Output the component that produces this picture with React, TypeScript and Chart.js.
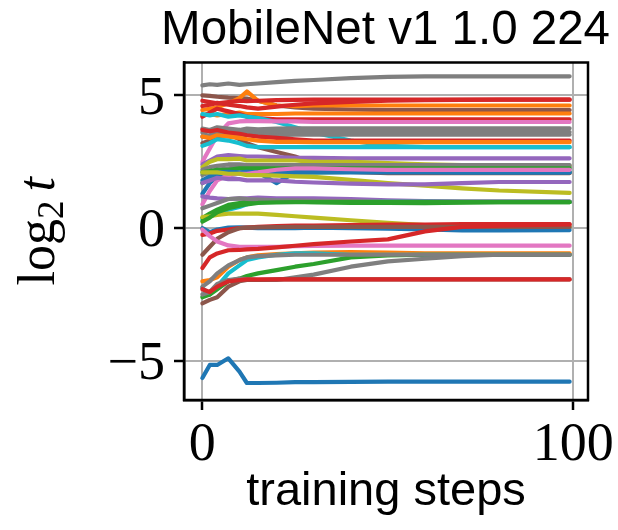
import React, { useEffect, useRef } from "react";
import { Chart, registerables } from "chart.js";

Chart.register(...registerables);

const titleText = "MobileNet v1 1.0 224";
const xLabel = "training steps";
const yLabelParts = ["log", "2", "t"];

const steps = [0, 2, 4, 7, 10, 12, 15, 20, 25, 30, 40, 50, 60, 70, 80, 99];
const xTicks = [0, 100];
const yTicks = [-5, 0, 5];

const C = {
  blue: "#1f77b4", orange: "#ff7f0e", green: "#2ca02c", red: "#d62728", purple: "#9467bd",
  brown: "#8c564b", pink: "#e377c2", gray: "#7f7f7f", olive: "#bcbd22", cyan: "#17becf",
};

const seriesColors = [
  "gray", "brown", "orange", "red", "red", "orange", "red", "cyan", "pink", "brown",
  "gray", "gray", "gray", "red", "orange", "cyan", "purple", "olive", "gray", "gray",
  "green", "green", "blue", "blue", "pink", "olive", "purple", "purple", "cyan", "green",
  "gray", "olive", "green", "blue", "red", "brown", "pink", "red", "orange", "cyan",
  "green", "gray", "gray", "brown", "red", "blue",
];

const seriesValues = [
  [5.38, 5.42, 5.40, 5.45, 5.40, 5.42, 5.45, 5.50, 5.55, 5.58, 5.65, 5.70, 5.72, 5.72, 5.72, 5.72],
  [5.00, 4.98, 4.95, 4.92, 4.90, 4.88, 4.80, 4.62, 4.55, 4.50, 4.47, 4.45, 4.45, 4.45, 4.45, 4.45],
  [4.45, 4.50, 4.55, 4.70, 4.90, 5.15, 4.80, 4.62, 4.60, 4.62, 4.62, 4.62, 4.62, 4.62, 4.62, 4.62],
  [4.80, 4.75, 4.70, 4.75, 4.80, 4.78, 4.80, 4.82, 4.83, 4.84, 4.84, 4.84, 4.84, 4.84, 4.84, 4.84],
  [4.60, 4.65, 4.72, 4.65, 4.60, 4.55, 4.50, 4.58, 4.65, 4.70, 4.76, 4.80, 4.82, 4.83, 4.84, 4.84],
  [4.25, 4.30, 4.25, 4.30, 4.35, 4.30, 4.30, 4.30, 4.32, 4.32, 4.32, 4.32, 4.32, 4.32, 4.32, 4.32],
  [4.20, 4.35, 4.50, 4.40, 4.30, 4.20, 4.15, 4.10, 4.10, 4.10, 4.10, 4.10, 4.10, 4.10, 4.10, 4.10],
  [4.30, 4.25, 4.30, 4.20, 4.25, 4.20, 4.15, 4.00, 3.80, 3.60, 3.30, 3.10, 3.05, 3.05, 3.05, 3.05],
  [2.50, 3.00, 3.50, 3.95, 4.02, 4.03, 4.03, 4.02, 4.02, 4.00, 4.00, 4.00, 4.00, 4.00, 4.00, 4.00],
  [3.20, 3.30, 3.40, 3.55, 3.35, 3.20, 3.05, 2.87, 2.70, 2.45, 2.12, 2.07, 2.07, 2.07, 2.07, 2.07],
  [3.75, 3.70, 3.80, 3.75, 3.70, 3.75, 3.72, 3.75, 3.76, 3.76, 3.76, 3.76, 3.76, 3.76, 3.76, 3.76],
  [3.60, 3.65, 3.55, 3.60, 3.70, 3.60, 3.62, 3.62, 3.62, 3.62, 3.62, 3.62, 3.62, 3.62, 3.62, 3.62],
  [3.45, 3.50, 3.60, 3.50, 3.55, 3.50, 3.52, 3.50, 3.52, 3.52, 3.52, 3.52, 3.52, 3.52, 3.52, 3.52],
  [3.70, 3.65, 3.70, 3.60, 3.55, 3.50, 3.45, 3.40, 3.35, 3.30, 3.30, 3.30, 3.30, 3.30, 3.30, 3.30],
  [3.45, 3.40, 3.50, 3.45, 3.40, 3.35, 3.30, 3.25, 3.25, 3.24, 3.24, 3.24, 3.24, 3.24, 3.24, 3.24],
  [3.10, 3.20, 3.35, 3.30, 3.20, 3.10, 3.05, 3.05, 3.05, 3.05, 3.05, 3.05, 3.05, 3.05, 3.05, 3.05],
  [2.40, 2.55, 2.70, 2.75, 2.72, 2.70, 2.70, 2.68, 2.65, 2.65, 2.63, 2.63, 2.63, 2.63, 2.63, 2.63],
  [2.30, 2.50, 2.60, 2.60, 2.62, 2.55, 2.55, 2.55, 2.55, 2.50, 2.50, 2.45, 2.40, 2.38, 2.35, 2.35],
  [2.20, 2.30, 2.35, 2.40, 2.40, 2.38, 2.38, 2.38, 2.38, 2.38, 2.38, 2.38, 2.38, 2.38, 2.38, 2.38],
  [2.00, 2.10, 2.20, 2.25, 2.30, 2.30, 2.30, 2.32, 2.30, 2.30, 2.30, 2.30, 2.30, 2.30, 2.30, 2.30],
  [2.10, 2.15, 2.20, 2.20, 2.25, 2.25, 2.25, 2.25, 2.25, 2.25, 2.25, 2.25, 2.25, 2.25, 2.25, 2.25],
  [1.70, 1.90, 2.00, 2.05, 2.05, 2.10, 2.10, 2.10, 2.10, 2.10, 2.12, 2.12, 2.12, 2.12, 2.12, 2.12],
  [1.80, 1.95, 2.10, 2.12, 2.10, 2.12, 2.10, 1.70, 2.10, 2.12, 2.15, 2.15, 2.12, 2.10, 2.10, 2.10],
  [1.30, 1.70, 1.95, 2.00, 2.05, 2.05, 2.08, 2.10, 2.10, 2.10, 2.10, 2.10, 2.10, 2.10, 2.10, 2.10],
  [0.90, 1.40, 1.80, 2.00, 2.05, 2.05, 2.10, 2.20, 2.25, 2.25, 2.22, 2.20, 2.20, 2.20, 2.20, 2.20],
  [2.10, 2.10, 2.10, 2.05, 2.05, 2.00, 2.00, 1.98, 1.95, 1.93, 1.82, 1.70, 1.60, 1.50, 1.42, 1.33],
  [1.70, 1.80, 1.90, 1.85, 1.85, 1.80, 1.80, 1.80, 1.75, 1.72, 1.68, 1.65, 1.65, 1.70, 1.74, 1.74],
  [1.20, 1.15, 1.12, 1.10, 1.12, 1.12, 1.15, 1.12, 1.12, 1.12, 1.10, 1.05, 1.02, 1.00, 1.00, 1.00],
  [0.30, 0.45, 0.55, 0.70, 0.80, 0.90, 1.00, 1.03, 1.02, 1.00, 1.00, 1.00, 1.00, 0.99, 0.99, 0.99],
  [0.38, 0.55, 0.70, 0.88, 0.95, 1.00, 1.00, 1.00, 1.00, 0.98, 0.95, 0.95, 0.94, 0.96, 0.98, 0.98],
  [0.75, 0.85, 0.95, 1.10, 1.12, 1.10, 1.08, 1.05, 1.05, 1.03, 1.02, 1.00, 1.00, 1.00, 1.00, 1.00],
  [0.42, 0.45, 0.50, 0.55, 0.55, 0.55, 0.55, 0.50, 0.45, 0.40, 0.30, 0.20, 0.12, 0.10, 0.08, 0.05],
  [0.25, 0.40, 0.60, 0.75, 0.85, 0.90, 0.95, 0.97, 0.98, 0.98, 0.98, 0.98, 0.98, 0.98, 0.98, 0.98],
  [0.00, -0.15, -0.05, 0.02, 0.03, 0.02, 0.00, 0.00, 0.00, 0.02, 0.00, -0.02, -0.05, -0.08, -0.08, -0.07],
  [-0.25, -0.20, -0.10, -0.05, 0.00, 0.02, 0.05, 0.08, 0.10, 0.10, 0.12, 0.14, 0.14, 0.15, 0.15, 0.15],
  [-1.00, -0.70, -0.40, -0.15, 0.00, 0.02, 0.03, 0.04, 0.05, 0.05, 0.05, 0.05, 0.05, 0.05, 0.05, 0.05],
  [-0.05, -0.30, -0.50, -0.65, -0.70, -0.70, -0.70, -0.70, -0.68, -0.67, -0.66, -0.66, -0.66, -0.66, -0.66, -0.66],
  [-1.50, -1.10, -0.95, -0.83, -0.82, -0.80, -0.78, -0.72, -0.66, -0.60, -0.50, -0.42, -0.12, 0.05, 0.10, 0.14],
  [-2.00, -1.95, -1.85, -1.45, -1.20, -1.10, -1.02, -0.98, -0.95, -0.92, -0.90, -0.92, -0.95, -0.95, -0.95, -0.95],
  [-2.25, -2.50, -2.20, -1.70, -1.40, -1.20, -1.10, -1.00, -0.95, -0.95, -1.00, -1.00, -1.00, -1.00, -1.00, -1.00],
  [-2.60, -2.50, -2.30, -2.00, -1.90, -1.80, -1.70, -1.58, -1.45, -1.35, -1.10, -1.02, -1.00, -1.00, -1.00, -1.00],
  [-2.50, -2.40, -2.10, -1.95, -1.90, -1.92, -1.95, -1.95, -1.85, -1.75, -1.45, -1.25, -1.15, -1.05, -1.00, -1.00],
  [-2.20, -2.00, -1.70, -1.40, -1.20, -1.10, -1.05, -1.02, -1.00, -1.00, -1.00, -1.00, -1.00, -1.00, -1.00, -1.00],
  [-2.83, -2.70, -2.60, -2.20, -2.00, -1.95, -1.95, -1.93, -1.93, -1.93, -1.93, -1.93, -1.93, -1.93, -1.93, -1.93],
  [-2.30, -2.40, -2.20, -2.00, -1.95, -1.93, -1.93, -1.93, -1.93, -1.93, -1.93, -1.93, -1.93, -1.93, -1.93, -1.93],
  [-5.64, -5.15, -5.15, -4.90, -5.40, -5.83, -5.83, -5.82, -5.80, -5.80, -5.79, -5.78, -5.78, -5.78, -5.78, -5.78],
];

const frameAndLabelPlugin = {
  id: "frameAndLabel",
  afterDatasetsDraw(chart: any) {
    const { ctx, chartArea } = chart;
    ctx.save();
    ctx.strokeStyle = "#000";
    ctx.lineWidth = 2.5;
    ctx.strokeRect(chartArea.left, chartArea.top, chartArea.right - chartArea.left, chartArea.bottom - chartArea.top);
    ctx.restore();
  },
  afterDraw(chart: any) {
    const { ctx, chartArea } = chart;
    const cy = (chartArea.top + chartArea.bottom) / 2;
    const big = "52px 'Liberation Serif'";
    const small = "37px 'Liberation Serif'";
    const ital = "italic 52px 'Liberation Serif'";
    ctx.save();
    ctx.fillStyle = "#000";
    ctx.translate(54, cy);
    ctx.rotate(-Math.PI / 2);
    ctx.textBaseline = "alphabetic";
    ctx.font = big;
    const w1 = ctx.measureText(yLabelParts[0]).width;
    ctx.font = small;
    const w2 = ctx.measureText(yLabelParts[1]).width;
    ctx.font = ital;
    const w3 = ctx.measureText(yLabelParts[2]).width;
    const gap = 9;
    const total = w1 + w2 + gap + w3;
    let x = -total / 2;
    ctx.font = big;
    ctx.fillText(yLabelParts[0], x, 0);
    x += w1;
    ctx.font = small;
    ctx.fillText(yLabelParts[1], x, 9);
    x += w2 + gap;
    ctx.font = ital;
    ctx.fillText(yLabelParts[2], x, 0);
    ctx.restore();
  },
};

export default function App() {
  const ref = useRef<HTMLCanvasElement | null>(null);
  useEffect(() => {
    if (!ref.current) return;
    const datasets = seriesValues.map((vals, i) => ({
      label: "s" + i,
      data: vals.map((v, j) => ({ x: steps[j], y: v })),
      borderColor: (C as any)[seriesColors[i]],
      backgroundColor: (C as any)[seriesColors[i]],
      borderWidth: 4.2,
      borderJoinStyle: "round",
      borderCapStyle: "round",
      pointRadius: 0,
      tension: 0,
      fill: false,
      order: seriesValues.length - i,
    }));
    const tickFont = { family: "'Liberation Serif'", size: 54 };
    const chart = new Chart(ref.current, {
      type: "line",
      data: { datasets },
      plugins: [frameAndLabelPlugin],
      options: {
        animation: false,
        responsive: false,
        devicePixelRatio: 1,
        layout: { padding: { top: 0, left: 0, right: 8, bottom: 0 } },
        plugins: {
          legend: { display: false },
          tooltip: { enabled: false },
          title: {
            display: true,
            align: "end",
            text: titleText,
            color: "#000",
            font: { family: "'Liberation Sans'", size: 47.5, weight: "normal", lineHeight: 1 },
            padding: { top: 7, bottom: 8 },
          },
        },
        scales: {
          x: {
            type: "linear",
            min: -4.95,
            max: 103.95,
            afterBuildTicks: (s: any) => { s.ticks = xTicks.map((v) => ({ value: v })); },
            afterFit: (s: any) => { s.height = 130; s.paddingLeft = 0; s.paddingRight = 30; },
            ticks: {
              font: tickFont, color: "#000", padding: 3, maxRotation: 0, autoSkip: false,
              callback: (v: any) => String(v),
            },
            grid: { color: "#b0b0b0", lineWidth: 2, tickColor: "#000", tickLength: 10, tickWidth: 2.5 },
            border: { color: "#000", width: 2.5 },
            title: {
              display: true, text: xLabel, color: "#000",
              font: { family: "'Liberation Sans'", size: 47, lineHeight: 1 },
              padding: { top: 0, bottom: 14 },
            },
          },
          y: {
            type: "linear",
            min: -6.47,
            max: 6.24,
            afterBuildTicks: (s: any) => { s.ticks = yTicks.map((v) => ({ value: v })); },
            afterFit: (s: any) => { s.width = 184; s.paddingTop = 0; s.paddingBottom = 0; },
            ticks: {
              font: tickFont, color: "#000", padding: 9, labelOffset: 4, autoSkip: false,
              callback: (v: any) => (v < 0 ? "\u2212" + Math.abs(v) : String(v)),
            },
            grid: { color: "#b0b0b0", lineWidth: 2, tickColor: "#000", tickLength: 10, tickWidth: 2.5 },
            border: { color: "#000", width: 2.5 },
          },
        },
      } as any,
    });
    return () => chart.destroy();
  }, []);
  return (
    <div style={{ position: "fixed", left: 0, top: 0, width: 618, height: 530, background: "#fff" }}>
      <canvas ref={ref} width={618} height={530} style={{ width: 618, height: 530 }} />
    </div>
  );
}
